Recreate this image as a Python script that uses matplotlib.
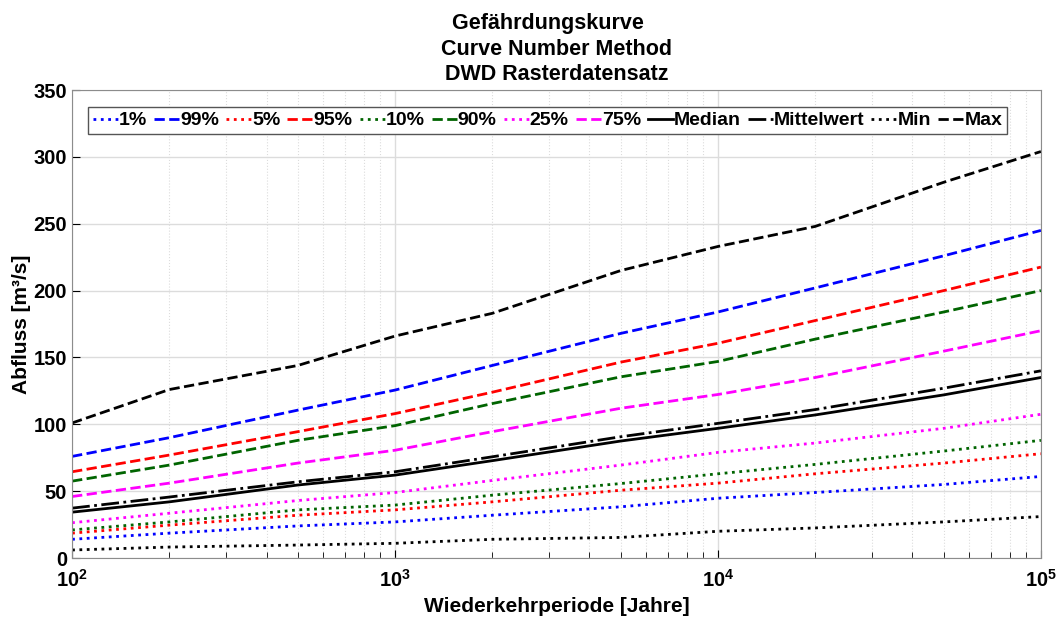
import matplotlib
matplotlib.use("Agg")
import matplotlib.pyplot as plt
from matplotlib.ticker import LogLocator, LogFormatterMathtext, MultipleLocator, NullFormatter

# Wiederkehrperiode [Jahre]
periods = [100, 200, 500, 1000, 2000, 5000, 10000, 20000, 50000, 100000]

# Abfluss [m3/s] je Quantil
q01 = [14, 18.6, 24, 27, 32, 38.3, 44.7, 49, 55, 61]
q99 = [76, 90, 110.6, 125.6, 144, 168, 184, 202, 226, 245]
q05 = [18.6, 24.6, 32, 36, 42, 50.7, 56, 63, 71, 78]
q95 = [64.5, 77, 94.5, 108, 124, 146.5, 160.6, 177.6, 200, 217.6]
q10 = [21, 27, 36, 39.6, 47, 55.7, 63, 70, 80, 88]
q90 = [57.5, 69.5, 88, 99, 115.5, 135.5, 147, 163.7, 184, 200]
q25 = [26.4, 33.5, 43, 49, 58, 69.5, 79, 86, 97, 107.5]
q75 = [46, 56, 71, 80.6, 94.5, 112, 122.3, 135, 154.7, 170]
median = [34.3, 42, 54.6, 62, 72.8, 87.5, 97, 107, 122, 135]
mittelwert = [37.3, 45.6, 57, 64.5, 75.7, 90.7, 100.7, 111, 127, 140]
q_min = [6, 8.2, 9.7, 11, 14, 15.4, 20, 22.5, 27, 31]
q_max = [101, 126, 144, 166, 183, 215, 233, 248, 281, 304]

labels = ["1%", "99%", "5%", "95%", "10%", "90%", "25%", "75%",
          "Median", "Mittelwert", "Min", "Max"]

plt.rcParams['font.family'] = ['Liberation Sans', 'DejaVu Sans']
plt.rcParams['font.weight'] = 'bold'
plt.rcParams['mathtext.default'] = 'bf'

fig = plt.figure(figsize=(10.6, 6.23), dpi=100)
axis = fig.add_axes([0.068, 0.1043, 0.914, 0.7512])

green = '#006400'
series = [
    (q01, 'blue', ':'), (q99, 'blue', '--'),
    (q05, 'red', ':'), (q95, 'red', '--'),
    (q10, green, ':'), (q90, green, '--'),
    (q25, 'magenta', ':'), (q75, 'magenta', '--'),
    (median, 'black', '-'), (mittelwert, 'black', '-.'),
    (q_min, 'black', ':'), (q_max, 'black', '--'),
]
for (values, color, style), label in zip(series, labels):
    axis.plot(periods, values, color=color, linestyle=style, linewidth=2, label=label)

axis.set_xscale('log')
axis.set_xlim(1e2, 1e5)
axis.set_ylim(0, 350)
axis.xaxis.set_major_locator(LogLocator(base=10))
axis.xaxis.set_major_formatter(LogFormatterMathtext())
axis.xaxis.set_minor_locator(LogLocator(base=10, subs=range(2, 10)))
axis.xaxis.set_minor_formatter(NullFormatter())
axis.yaxis.set_major_locator(MultipleLocator(50))

axis.grid(which='major', color='#dcdcdc', linewidth=1)
axis.grid(which='minor', axis='x', color='#dcdcdc', linestyle=':', linewidth=0.8)
axis.tick_params(which='both', direction='in', labelsize=14.5, top=False, right=False)
axis.tick_params(which='major', length=6)
axis.tick_params(which='minor', length=4)
axis.tick_params(axis='x', pad=8)
for spine in axis.spines.values():
    spine.set_color('#8c8c8c')

axis.set_xlabel('Wiederkehrperiode [Jahre]', fontsize=15, fontweight='bold')
axis.set_ylabel('Abfluss [m³/s]', fontsize=15, fontweight='bold', labelpad=2)
axis.set_title('Gefährdungskurve   \nCurve Number Method\nDWD Rasterdatensatz',
               fontsize=15.5, fontweight='bold', linespacing=1.3, pad=7)

axis.legend(loc='upper left', bbox_to_anchor=(0.0165, 0.964), ncol=12,
            fontsize=14, handlelength=1.3, handletextpad=0.05,
            columnspacing=0.35, borderpad=0.25, borderaxespad=0,
            fancybox=False, edgecolor='#555555', framealpha=1)

fig.savefig('out.png', dpi=100)
